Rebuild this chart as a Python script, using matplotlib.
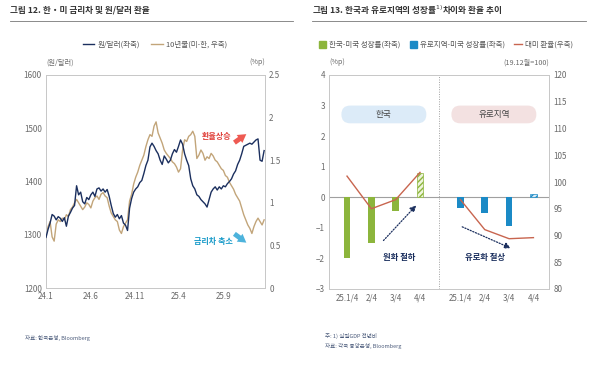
import numpy as np
import pandas as pd
import matplotlib
matplotlib.use("Agg")
import matplotlib.pyplot as plt
from matplotlib.patches import Patch, FancyBboxPatch

plt.rcParams['font.family'] = ['Noto Sans CJK KR', 'DejaVu Sans']

# ---- left chart: KRW/USD and 10y spread (weekly)
krw = [1295, 1310, 1322, 1338, 1335, 1328, 1334, 1331, 1325, 1332,
       1316, 1335, 1342, 1350, 1355, 1392, 1375, 1380, 1362, 1358,
       1370, 1366, 1375, 1380, 1372, 1386, 1388, 1382, 1386, 1380,
       1385, 1372, 1355, 1340, 1333, 1338, 1330, 1336, 1322, 1318,
       1308, 1350, 1368, 1380, 1386, 1390, 1398, 1402, 1415, 1430,
       1440, 1465, 1472, 1466, 1458, 1452, 1440, 1432, 1448, 1442,
       1435, 1440, 1452, 1460, 1455, 1466, 1478, 1470, 1452, 1440,
       1430, 1405, 1392, 1386, 1375, 1372, 1366, 1362, 1358, 1352,
       1366, 1380, 1386, 1390, 1384, 1390, 1386, 1392, 1390, 1396,
       1400, 1405, 1414, 1420, 1432, 1440, 1452, 1466, 1468, 1470,
       1472, 1470, 1474, 1478, 1480, 1440, 1438, 1458]
spread = [0.62, 0.72, 0.78, 0.60, 0.55, 0.75, 0.80, 0.78, 0.82, 0.80,
          0.86, 0.84, 0.92, 0.95, 1.00, 1.04, 1.00, 0.96, 0.92, 0.95,
          1.00, 0.98, 0.94, 1.02, 1.06, 1.08, 1.04, 1.10, 1.12, 1.08,
          1.06, 0.96, 0.88, 0.84, 0.80, 0.78, 0.68, 0.64, 0.72, 0.76,
          0.80, 1.02, 1.10, 1.22, 1.30, 1.36, 1.44, 1.50, 1.56, 1.66,
          1.74, 1.80, 1.78, 1.90, 1.95, 1.82, 1.76, 1.70, 1.62, 1.58,
          1.55, 1.52, 1.48, 1.46, 1.42, 1.36, 1.40, 1.62, 1.74, 1.72,
          1.78, 1.80, 1.84, 1.78, 1.52, 1.56, 1.62, 1.58, 1.50, 1.54,
          1.52, 1.58, 1.55, 1.50, 1.48, 1.44, 1.40, 1.38, 1.32, 1.30,
          1.24, 1.20, 1.16, 1.10, 1.06, 1.02, 0.94, 0.86, 0.80, 0.74,
          0.70, 0.64, 0.72, 0.78, 0.82, 0.78, 0.74, 0.80]
dates = pd.date_range("2024-01-01", periods=len(krw), freq="7D")
xtick_dates = ["2024-01-01", "2024-06-01", "2024-11-01", "2025-04-01", "2025-09-01"]
xtick_labels = ["24.1", "24.6", "24.11", "25.4", "25.9"]

# ---- right chart: growth gap and exchange rate index
quarters = ["25.1/4", "2/4", "3/4", "4/4", "25.1/4", "2/4", "3/4", "4/4"]
kor_gap = [-2.0, -1.5, -0.45, 0.8]
euro_gap = [-0.36, -0.5, -0.93, 0.1]
kor_fx = [101.1, 95.0, 96.7, 101.8]
euro_fx = [96.7, 91.1, 89.4, 89.6]

navy = "#1b2f5e"
tan = "#c2a57a"
green = "#8cb53c"
blue = "#1b8ac6"
fxline = "#c8654f"
spine_c = "#c8c8c8"
tick_c = "#6a6a6a"

W, H = 616, 372
fig = plt.figure(figsize=(W / 100, H / 100), dpi=100)

def px(l, t, r, b):
    return [l / W, 1 - b / H, (r - l) / W, (b - t) / H]

# titles and rules
fig.text(10 / W, 1 - 10 / H, "그림 12. 한・미 금리차 및 원/달러 환율", fontsize=6.2,
         color="#333333", va="center", weight="bold")
fig.text(312 / W, 1 - 10 / H, "그림 13. 한국과 유로지역의 성장률$^{1)}$차이와 환율 추이",
         fontsize=6.2, color="#333333", va="center", weight="bold")
fig.add_artist(plt.Line2D([10 / W, 293 / W], [1 - 21 / H] * 2, color="#777777", lw=0.6))
fig.add_artist(plt.Line2D([312 / W, 586 / W], [1 - 21 / H] * 2, color="#777777", lw=0.6))

def style(ax):
    for s in ax.spines.values():
        s.set_color(spine_c)
        s.set_linewidth(0.7)
    ax.tick_params(length=0, labelsize=5.8, colors=tick_c, pad=3)

# ---- left
ax1 = fig.add_axes(px(46, 75, 265, 288))
ax1b = ax1.twinx()
l1, = ax1.plot(dates, krw, color=navy, lw=1.0, label="원/달러(좌축)", zorder=3)
l2, = ax1b.plot(dates, spread, color=tan, lw=1.0, label="10년물(미-한, 우축)")
ax1.set_zorder(ax1b.get_zorder() + 1)
ax1.patch.set_visible(False)
ax1.set_ylim(1200, 1600)
ax1.set_yticks([1200, 1300, 1400, 1500, 1600])
ax1b.set_ylim(0, 2.5)
ax1b.set_yticks([0, 0.5, 1, 1.5, 2, 2.5])
ax1b.set_yticklabels(["0", "0.5", "1", "1.5", "2", "2.5"])
ax1.set_xlim(pd.Timestamp("2024-01-01"), pd.Timestamp("2026-01-22"))
ax1.set_xticks(pd.to_datetime(xtick_dates))
ax1.set_xticklabels(xtick_labels)
style(ax1)
style(ax1b)
ax1.text(0.0, 1.04, "(원/달러)", transform=ax1.transAxes, fontsize=5.2, color=tick_c,
         va="bottom", ha="left")
ax1.text(1.0, 1.04, "(%p)", transform=ax1.transAxes, fontsize=5.2, color=tick_c,
         va="bottom", ha="right")
fig.legend(handles=[l1, l2], loc="center", bbox_to_anchor=(155 / W, 1 - 45 / H), ncol=2,
           frameon=False, fontsize=5.4, handlelength=1.5, columnspacing=1.5,
           labelcolor="#555555", handletextpad=0.5)

ax1.text(0.78, 0.709, "환율상승", transform=ax1.transAxes, fontsize=5.8, color="#e0403a",
         ha="center", va="center", weight="bold")
ax1.annotate("", xy=(0.925, 0.73), xytext=(0.85, 0.675), xycoords="axes fraction",
             arrowprops=dict(arrowstyle="simple,head_width=0.7,head_length=0.6,tail_width=0.35",
                             color="#ee5a52", lw=0))
ax1.text(0.763, 0.216, "금리차 축소", transform=ax1.transAxes, fontsize=5.8, color="#1a9bc9",
         ha="center", va="center", weight="bold")
ax1.annotate("", xy=(0.925, 0.205), xytext=(0.85, 0.262), xycoords="axes fraction",
             arrowprops=dict(arrowstyle="simple,head_width=0.7,head_length=0.6,tail_width=0.35",
                             color="#4db3dc", lw=0))

# ---- right
ax2 = fig.add_axes(px(329, 75, 549, 289))
ax2b = ax2.twinx()
kx = np.arange(4)
ex = np.arange(4) + 4.66
bw = 0.27
ax2.bar(kx[:3], kor_gap[:3], width=bw, color=green, zorder=2)
ax2.bar(kx[3:], kor_gap[3:], width=bw, color="#eef4dc", edgecolor=green, hatch="//////",
        lw=0.5, zorder=2)
ax2.bar(ex[:3], euro_gap[:3], width=bw, color=blue, zorder=2)
ax2.bar(ex[3:], euro_gap[3:], width=bw, color="#dcecf6", edgecolor=blue, hatch="//////",
        lw=0.5, zorder=2)
ax2.axhline(0, color="#a0a0a0", lw=0.8, zorder=1)
ax2.axvline(3.78, color="#a0a0a0", lw=0.7, ls=(0, (1, 1.5)), zorder=1)
ax2b.plot(kx, kor_fx, color=fxline, lw=1.0)
ax2b.plot(ex, euro_fx, color=fxline, lw=1.0)
ax2.set_xlim(-0.74, 8.30)
ax2.set_ylim(-3, 4)
ax2.set_yticks(range(-3, 5))
ax2b.set_ylim(80, 120)
ax2b.set_yticks(range(80, 121, 5))
ax2.set_xticks(list(kx) + list(ex))
ax2.set_xticklabels(quarters)
style(ax2)
style(ax2b)
ax2.text(0.0, 1.04, "(%p)", transform=ax2.transAxes, fontsize=5.2, color=tick_c,
         va="bottom", ha="left")
ax2.text(1.0, 1.04, "(19.12월=100)", transform=ax2.transAxes, fontsize=5.2, color=tick_c,
         va="bottom", ha="right")

# region pills
for x0, x1, lab, fc in [(-0.23, 3.26, "한국", "#dcebf8"), (4.29, 7.78, "유로지역", "#f3e1e1")]:
    pill = FancyBboxPatch((x0, 2.42), x1 - x0, 0.58,
                          boxstyle="round,pad=0,rounding_size=0.36", mutation_aspect=0.794,
                          fc=fc, ec="none", zorder=1.5)
    ax2.add_patch(pill)
    ax2.text((x0 + x1) / 2, 2.71, lab, fontsize=6.2, color="#444444", ha="center",
             va="center", zorder=3)

ax2.annotate("", xy=(2.92, -0.2), xytext=(1.42, -1.48),
             arrowprops=dict(arrowstyle="-|>,head_width=0.18,head_length=0.35",
                             color=navy, lw=0.9, ls=(0, (1, 1.3))))
ax2.annotate("", xy=(6.83, -1.7), xytext=(4.63, -0.93),
             arrowprops=dict(arrowstyle="-|>,head_width=0.18,head_length=0.35",
                             color=navy, lw=0.9, ls=(0, (1, 1.3))))
ax2.text(2.16, -1.97, "원화 절하", fontsize=6, color=navy, ha="center", va="center",
         weight="bold")
ax2.text(5.66, -1.97, "유로화 절상", fontsize=6, color=navy, ha="center", va="center",
         weight="bold")

h1 = Patch(color=green, label="한국-미국 성장률(좌축)")
h2 = Patch(color=blue, label="유로지역-미국 성장률(좌축)")
h3 = plt.Line2D([], [], color=fxline, lw=1.0, label="대미 환율(우축)")
fig.legend(handles=[h1, h2, h3], loc="center", bbox_to_anchor=(446 / W, 1 - 45 / H), ncol=3,
           frameon=False, fontsize=5.4, handlelength=1.0, handleheight=1.0, columnspacing=1.2,
           labelcolor="#555555", handletextpad=0.4)

# footnotes
fig.text(25 / W, 1 - 338 / H, "자료: 한국은행, Bloomberg", fontsize=4.0, color="#4a5a7a",
         va="center")
fig.text(325 / W, 1 - 336 / H, "주: 1) 실질GDP 전년비", fontsize=4.0, color="#4a5a7a",
         va="center")
fig.text(325 / W, 1 - 346 / H, "자료: 각국 중앙은행, Bloomberg", fontsize=4.0, color="#4a5a7a",
         va="center")

fig.savefig("out.png", dpi=100)
